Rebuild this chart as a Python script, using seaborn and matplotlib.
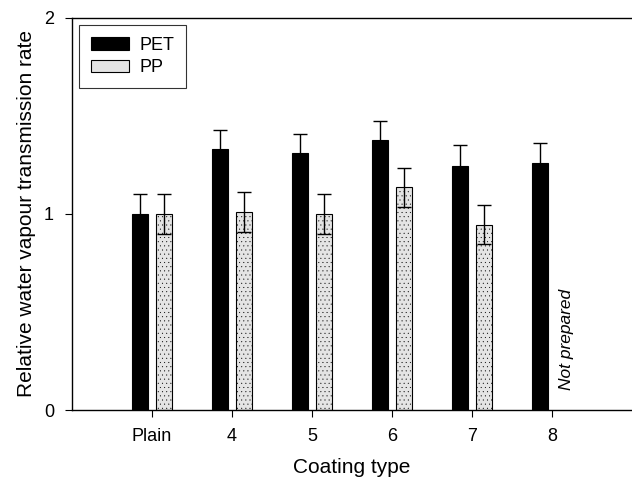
import numpy as np
import pandas as pd
import matplotlib
matplotlib.use("Agg")
import matplotlib.pyplot as plt
import seaborn as sns

# Data
coatings = ["Plain", "4", "5", "6", "7", "8"]
pet_values = [1.00, 1.33, 1.31, 1.375, 1.245, 1.26]
pet_errors = [0.10, 0.10, 0.10, 0.10, 0.105, 0.10]
pp_values = [1.00, 1.01, 1.00, 1.135, 0.945, np.nan]
pp_errors = [0.10, 0.10, 0.10, 0.10, 0.10, np.nan]

sns.set_style("ticks")
plt.rcParams["font.family"] = ["Liberation Sans", "DejaVu Sans"]
plt.rcParams["hatch.linewidth"] = 0.2
for key in ["text.color", "axes.labelcolor", "xtick.color", "ytick.color"]:
    plt.rcParams[key] = "black"

df = pd.DataFrame({
    "Coating": coatings * 2,
    "Film": ["PET"] * len(coatings) + ["PP"] * len(coatings),
    "Value": pet_values + pp_values,
    "Err": pet_errors + pp_errors,
})
df = df.dropna()

fig = plt.figure(figsize=(6.32, 4.83), dpi=100)
ax = fig.add_axes([0.114, 0.151, 0.886, 0.812])

sns.barplot(data=df, x="Coating", y="Value", hue="Film", order=coatings,
            hue_order=["PET", "PP"], palette={"PET": "black", "PP": "#e4e4e4"},
            width=0.6, gap=0.37, errorbar=None, edgecolor="black",
            linewidth=0.8, ax=ax)

# stipple the PP bars and add error bars at the bar positions
for cont, film in zip(ax.containers, ["PET", "PP"]):
    errs = df.loc[df["Film"] == film, "Err"].to_numpy()
    xs, ys = [], []
    for bar in cont:
        xs.append(bar.get_x() + bar.get_width() / 2)
        ys.append(bar.get_height())
        if film == "PP":
            bar.set_hatch("....")
    ax.errorbar(xs, ys, yerr=errs, fmt="none", ecolor="black",
                elinewidth=1.0, capsize=5, capthick=1.0, zorder=3)

ax.text(5.18, 0.1, "Not prepared", rotation=90, style="italic",
        fontsize=12.5, ha="center", va="bottom")

ax.set_xlim(-1, 6)
ax.set_ylim(0, 2)
ax.set_yticks([0, 1, 2])
ax.set_yticklabels(["0", "1", "2"])
ax.tick_params(axis="both", direction="out", length=5, width=0.8,
               labelsize=13, pad=8)
ax.set_xlabel("Coating type", fontsize=15, labelpad=9)
ax.set_ylabel("Relative water vapour transmission rate", fontsize=15,
              labelpad=6)

for side in ["left", "bottom", "top"]:
    ax.spines[side].set_visible(True)
    ax.spines[side].set_linewidth(1.0)
    ax.spines[side].set_color("black")
ax.spines["right"].set_visible(False)

handles, labels = ax.get_legend_handles_labels()
leg = ax.legend(handles, labels, loc="upper left", fontsize=13,
                frameon=True, fancybox=False, edgecolor="black",
                handlelength=2.1, handleheight=0.7, borderaxespad=0.4,
                borderpad=0.65, labelspacing=0.3, handletextpad=0.6)
leg.get_frame().set_linewidth(0.8)

fig.savefig("out.png", dpi=100)
